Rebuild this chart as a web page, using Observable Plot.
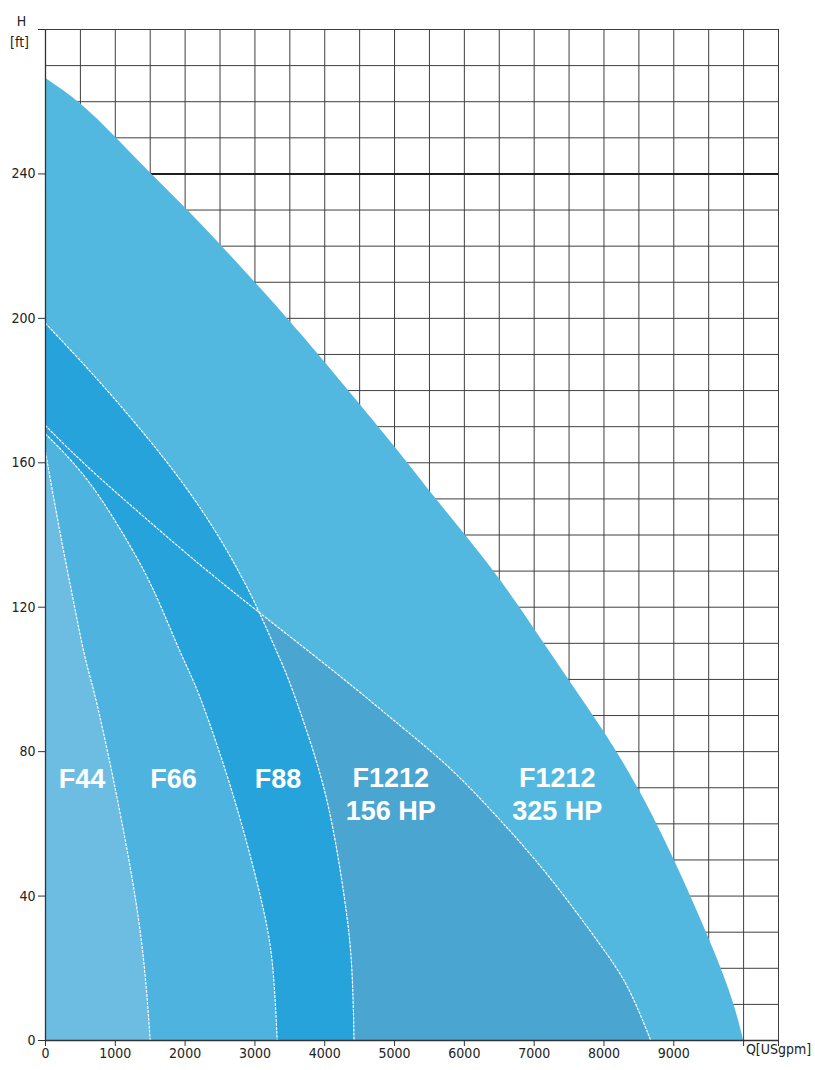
<!DOCTYPE html>
<html><head><meta charset="utf-8">
<script src="https://cdn.jsdelivr.net/npm/d3@7"></script>
<script src="https://cdn.jsdelivr.net/npm/@observablehq/plot@0.6"></script>
<style>
body{margin:0;background:#fff}
#chart svg{display:block}
</style>
</head><body><div id="chart"></div>
<script>
// Pump curves: flow Q [USgpm] and head H [ft]
const q325 = [0, 500, 1000, 1500, 2000, 2500, 3000, 3480, 5090, 5492, 6000, 6500, 7000, 7500, 8000, 8500, 9000, 9584, 9871, 10000];
const h325 = [266.5, 260, 250.3, 240.2, 230.8, 220.6, 210, 200, 162.6, 152.3, 140.4, 128.2, 114.1, 99.7, 85.8, 70, 50.7, 25, 10.2, 0];

const q156 = [0, 543, 1357, 2218, 3080, 4276, 5090, 5808, 6526, 7243, 8009, 8344, 8670];
const h156 = [170.3, 159.7, 145.9, 131.5, 118.2, 100.2, 87, 75.7, 60.9, 45.2, 24.9, 15.7, 0];

const q88 = [0, 639, 1261, 1884, 2409, 2793, 3056, 3367, 3486, 3893, 4110, 4300, 4396, 4420];
const h88 = [198.6, 185.5, 171.7, 156.9, 142.2, 129.2, 119.1, 105.2, 100.2, 77.5, 60.9, 37.9, 22.2, 0];

const q66 = [0, 543, 974, 1453, 1740, 1979, 2171, 2505, 2805, 3176, 3271, 3319];
const h66 = [168, 157.4, 144.9, 129.2, 116.3, 105.2, 97.8, 79.4, 60.9, 33.2, 19.4, 0];

const q44 = [0, 208, 400, 567, 686, 878, 1094, 1309, 1429, 1500];
const h44 = [163, 140.3, 121.8, 105.2, 97.8, 81.2, 60.9, 37.9, 19.4, 0];

const seriesNames = ["F1212 325 HP", "F1212 156 HP", "F88", "F66", "F44"];
const seriesColors = ["#53b8df", "#4ba5d1", "#27a3db", "#4fb3df", "#6dbde3"];

const labelText = ["F44", "F66", "F88", "F1212\n156 HP", "F1212\n325 HP"];
const labelQ = [524, 1835, 3331, 4946, 7330];
const labelH = [72.8, 72.8, 72.8, 68.5, 68.5];

const xTicks = [0, 1000, 2000, 3000, 4000, 5000, 6000, 7000, 8000, 9000, 10000, 10500];
const xTickLabels = ["0", "1000", "2000", "3000", "4000", "5000", "6000", "7000", "8000", "9000", "", ""];
const yTicks = [0, 40, 80, 120, 160, 200, 240, 280];
const yTickLabels = ["0", "40", "80", "120", "160", "200", "240", ""];
const gridQ = d3.range(0, 10501, 500);
const gridH = d3.range(0, 281, 10);

const curves = [[q325, h325], [q156, h156], [q88, h88], [q66, h66], [q44, h44]];
const series = curves.map(([qs, hs], i) => ({
  name: seriesNames[i],
  fill: seriesColors[i],
  rows: qs.map((q, j) => ({q, h: hs[j]}))
}));
const labels = labelText.map((t, i) => ({t, q: labelQ[i], h: labelH[i]}));

const tickFont = "'Liberation Sans Narrow', 'DejaVu Sans Condensed', 'Liberation Sans', sans-serif";
const curve = "basis";

const marks = [
  Plot.ruleX(gridQ, {stroke: "#3f3f3f", strokeWidth: 1}),
  Plot.ruleY(gridH, {stroke: "#3f3f3f", strokeWidth: 1}),
  Plot.ruleY([240], {stroke: "#1e1e1e", strokeWidth: 2}),
  ...series.map(s => Plot.areaY(s.rows, {x: "q", y: "h", fill: s.fill, curve})),
  ...series.slice(1).map(s => Plot.lineY(s.rows, {x: "q", y: "h", stroke: "#ffffff", strokeWidth: 1.2, strokeDasharray: "2,2", strokeOpacity: 1, curve})),
  Plot.ruleX([0], {stroke: "#333", strokeWidth: 1.3}),
  Plot.ruleY([0], {stroke: "#333", strokeWidth: 1.3}),
  Plot.axisX({ticks: xTicks, tickFormat: d => xTickLabels[xTicks.indexOf(d)], tickSize: 6, tickPadding: 2, fontSize: 14, fontFamily: tickFont, label: null, stroke: "#333"}),
  Plot.axisY({ticks: yTicks, tickFormat: d => yTickLabels[yTicks.indexOf(d)], tickSize: 7, tickPadding: 3, fontSize: 14, fontFamily: tickFont, label: null, stroke: "#333"}),
  Plot.text(["Q[USgpm]"], {frameAnchor: "bottom-right", dy: 13, textAnchor: "middle", fontSize: 14, fontFamily: tickFont, fill: "#222"}),
  Plot.text(["H"], {frameAnchor: "top-left", dx: -24, dy: -13, textAnchor: "middle", fontSize: 14, fontFamily: tickFont, fill: "#222"}),
  Plot.text(["[ft]"], {frameAnchor: "top-left", dx: -26, dy: 8, textAnchor: "middle", fontSize: 14, fontFamily: tickFont, fill: "#222"}),
  Plot.text(labels, {x: "q", y: "h", text: "t", fill: "#ffffff", fontSize: 27, fontWeight: "bold", fontFamily: "'Liberation Sans', Arial, sans-serif", lineHeight: 1.22, lineAnchor: "middle", textAnchor: "middle"})
];

const chart = Plot.plot({
  width: 815,
  height: 1070,
  marginLeft: 45,
  marginRight: 37,
  marginTop: 29,
  marginBottom: 30,
  x: {domain: [0, 10500]},
  y: {domain: [0, 280]},
  style: {background: "#fff", color: "#222", fontFamily: tickFont, overflow: "visible"},
  marks
});
document.getElementById("chart").appendChild(chart);
</script>
</body></html>
